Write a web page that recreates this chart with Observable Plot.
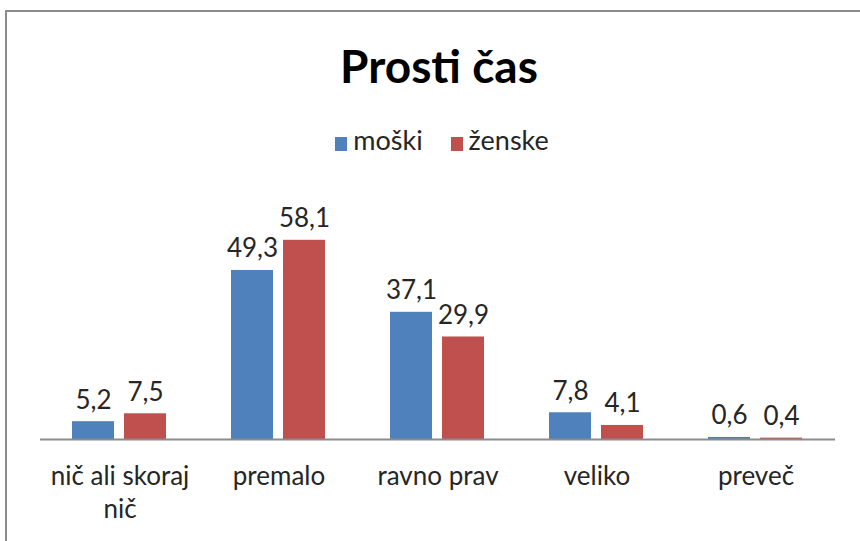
<!DOCTYPE html>
<html><head><meta charset="utf-8">
<script src="https://cdn.jsdelivr.net/npm/d3@7"></script>
<script src="https://cdn.jsdelivr.net/npm/@observablehq/plot@0.6"></script>
<style>
html,body{margin:0;padding:0;background:#fff;}
body{width:860px;height:541px;position:relative;overflow:hidden;font-family:Lato,"Open Sans",sans-serif;}
#frame{position:absolute;left:5px;top:10px;width:900px;height:600px;border:2px solid #8c8c8c;box-sizing:border-box;}
#title{position:absolute;top:36px;left:0;width:878px;text-align:center;font-weight:bold;font-size:46px;color:#000;line-height:60px;}
#legend{position:absolute;top:123px;left:0;width:884px;text-align:center;font-size:27px;color:#262626;line-height:34px;}
#legend .sw{display:inline-block;width:12px;height:14px;margin-right:6px;vertical-align:-1px;}
#legend .item{margin:0 14px;}
#chart{position:absolute;left:0;top:0;}
</style>
</head><body>
<div id="frame"></div>
<div id="title">Prosti čas</div>
<div id="legend"></div>
<div id="chart"></div>
<script>
const categories = ["nič ali skoraj nič","premalo","ravno prav","veliko","preveč"];
const tickLabels = ["nič ali skoraj\nnič","premalo","ravno prav","veliko","preveč"];
const series = ["moški","ženske"];
const moski = [5.2,49.3,37.1,7.8,0.6];
const zenske = [7.5,58.1,29.9,4.1,0.4];
const colors = ["#4F81BD","#C0504D"];

const data = [];
categories.forEach((c,i)=>{
  data.push({cat:c, s:series[0], v:moski[i]});
  data.push({cat:c, s:series[1], v:zenske[i]});
});
const fmt = v => String(v.toFixed(1)).replace(".", ",");

const leg = document.getElementById("legend");
leg.innerHTML = series.map((s,i)=>`<span class="item"><span class="sw" style="background:${colors[i]}"></span>${s}</span>`).join("");

const chart = Plot.plot({
  width:860, height:541,
  marginLeft:39, marginRight:24, marginTop:199, marginBottom:102,
  style:{fontFamily:"Lato, 'Open Sans', sans-serif", fontSize:"26px", color:"#262626", background:"transparent"},
  fx:{domain:categories, padding:0, label:null},
  x:{domain:series, paddingInner:0.19, paddingOuter:0.6, axis:null},
  y:{domain:[0,70], axis:null},
  color:{domain:series, range:colors},
  marks:[
    Plot.barY(data,{fx:"cat", x:"s", y:"v", fill:"s"}),
    Plot.ruleY([0],{stroke:"#8c8c8c", strokeWidth:2}),
    Plot.text(data,{fx:"cat", x:"s", y:"v", text:d=>fmt(d.v), lineAnchor:"bottom", dy:-13, fill:"#262626"}),
    Plot.axisFx({anchor:"bottom", tickSize:0, tickPadding:21, label:null, lineHeight:1.3,
      tickFormat:(d)=>tickLabels[categories.indexOf(d)], fill:"#262626"})
  ]
});
document.getElementById("chart").appendChild(chart);
</script>
</body></html>
